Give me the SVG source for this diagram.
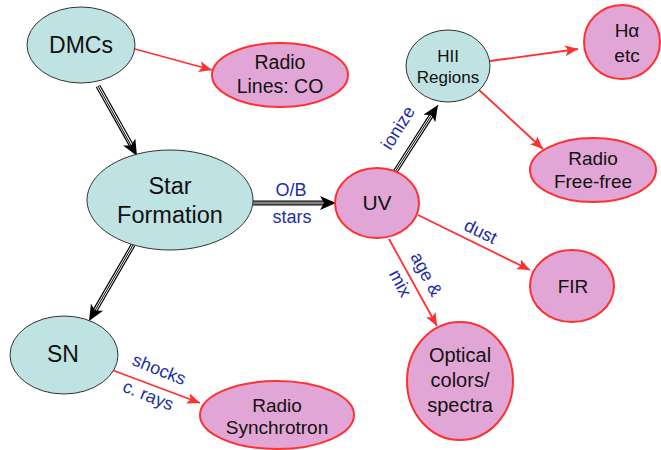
<svg xmlns="http://www.w3.org/2000/svg" width="661" height="450" viewBox="0 0 661 450">
<defs>
<marker id="ab" markerUnits="userSpaceOnUse" markerWidth="16" markerHeight="14" refX="16" refY="7" orient="auto">
<path d="M0,0 L16,7 L0,14 L4,7 z" fill="#000"/>
</marker>
<marker id="ar" markerUnits="userSpaceOnUse" markerWidth="13" markerHeight="11" refX="13" refY="5.5" orient="auto">
<path d="M0,0 L13,5.5 L0,11 L3,5.5 z" fill="#ff3030"/>
</marker>
</defs>
<style>
.cy{fill:#bfe2e2;stroke:#333;stroke-width:1}
.pk{fill:#e2a6d6;stroke:#ff3030;stroke-width:2}
text{font-family:"Liberation Sans",Arial,sans-serif;text-anchor:middle;fill:#111}
.lb{fill:#1c2ea6;font-size:18px}
.red{stroke:#ff3030;stroke-width:1.8;fill:none;marker-end:url(#ar)}
.t1{stroke:#000;stroke-width:5;fill:none}
.t2{stroke:#fff;stroke-width:2.6;fill:none}
.t3{stroke:#000;stroke-width:1;fill:none;marker-end:url(#ab)}
</style>
<rect width="661" height="450" fill="#fff"/>
<g id="connectors">
<line class="red" x1="135" y1="49" x2="212" y2="70"/>
<line class="red" x1="490" y1="61" x2="578" y2="49"/>
<line class="red" x1="478" y1="89" x2="543" y2="149"/>
<line class="red" x1="418" y1="215" x2="530" y2="270"/>
<line class="red" x1="389" y1="239" x2="437" y2="326"/>
<line class="red" x1="112" y1="370" x2="200" y2="403"/>
<g id="dmc-star">
<line class="t1" x1="98" y1="86" x2="131.4" y2="145.4"/>
<line class="t2" x1="98" y1="86" x2="131.4" y2="145.4"/>
<line class="t3" x1="98" y1="86" x2="137" y2="156"/>
</g>
<g id="star-uv">
<line class="t1" x1="253" y1="203" x2="324" y2="203"/>
<line class="t2" x1="253" y1="203" x2="324" y2="203"/>
<line class="t3" x1="253" y1="203" x2="336" y2="203"/>
</g>
<g id="star-sn">
<line class="t1" x1="133" y1="245" x2="95" y2="310.6"/>
<line class="t2" x1="133" y1="245" x2="95" y2="310.6"/>
<line class="t3" x1="133" y1="245" x2="89" y2="321"/>
</g>
<g id="uv-hii">
<line class="t1" x1="395" y1="172" x2="431.5" y2="115.1"/>
<line class="t2" x1="395" y1="172" x2="431.5" y2="115.1"/>
<line class="t3" x1="395" y1="172" x2="438" y2="105"/>
</g>
<text class="lb" x="291" y="196">O/B</text>
<text class="lb" x="292" y="223">stars</text>
<text class="lb" transform="translate(403,131) rotate(-58)">ionize</text>
<text class="lb" transform="translate(478,237) rotate(26)">dust</text>
<text class="lb" transform="translate(421,277) rotate(62)">age &amp;</text>
<text class="lb" transform="translate(395,286) rotate(62)">mix</text>
<text class="lb" transform="translate(157,375) rotate(22)">shocks</text>
<text class="lb" transform="translate(146,401) rotate(22)">c. rays</text>
</g>
<g id="dmcs"><ellipse class="cy" cx="81" cy="45" rx="54" ry="38"/><text x="81" y="53" font-size="23">DMCs</text></g>
<g id="radio-co"><ellipse class="pk" cx="280" cy="75" rx="68" ry="32"/><text x="280" y="69" font-size="19.5">Radio</text><text x="280" y="93" font-size="19.5">Lines: CO</text></g>
<g id="star"><ellipse class="cy" cx="170" cy="200" rx="83" ry="50"/><text x="170" y="194" font-size="23.5">Star</text><text x="170" y="223" font-size="23.5">Formation</text></g>
<g id="uv"><ellipse class="pk" cx="377" cy="203" rx="42" ry="35"/><text x="377" y="210" font-size="21">UV</text></g>
<g id="hii"><ellipse class="cy" cx="448" cy="66" rx="42" ry="36"/><text x="448" y="62" font-size="17">HII</text><text x="448" y="83" font-size="17">Regions</text></g>
<g id="halpha"><ellipse class="pk" cx="622" cy="42" rx="38" ry="37"/><text x="627" y="37" font-size="19">Hα</text><text x="627" y="62" font-size="19">etc</text></g>
<g id="freefree"><ellipse class="pk" cx="593" cy="170" rx="63" ry="32"/><text x="593" y="165" font-size="19">Radio</text><text x="593" y="188" font-size="19">Free-free</text></g>
<g id="fir"><ellipse class="pk" cx="572" cy="286" rx="42" ry="36"/><text x="573" y="293" font-size="19">FIR</text></g>
<g id="optical"><ellipse class="pk" cx="460" cy="381" rx="53" ry="59"/><text x="460" y="362" font-size="20">Optical</text><text x="460" y="387" font-size="20">colors/</text><text x="460" y="412" font-size="20">spectra</text></g>
<g id="sn"><ellipse class="cy" cx="64" cy="355" rx="54" ry="39"/><text x="63" y="362" font-size="23">SN</text></g>
<g id="synch"><ellipse class="pk" cx="277" cy="415" rx="77" ry="34"/><text x="277" y="412" font-size="19">Radio</text><text x="277" y="434" font-size="19">Synchrotron</text></g>
</svg>
